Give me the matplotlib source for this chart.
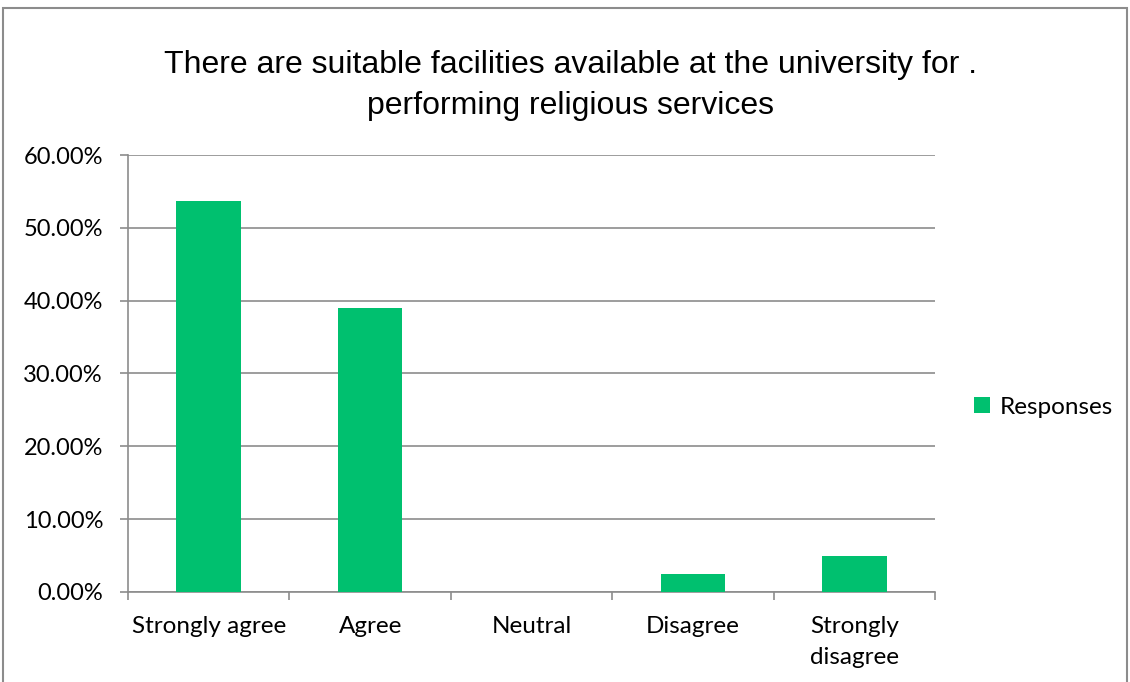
import matplotlib.pyplot as plt
from matplotlib.patches import Rectangle
from matplotlib.ticker import FixedLocator, PercentFormatter

# survey responses (share of respondents)
categories = ['Strongly agree', 'Agree', 'Neutral', 'Disagree', 'Strongly\ndisagree']
responses = [53.66, 39.02, 0.0, 2.44, 4.88]
yticks = [0, 10, 20, 30, 40, 50, 60]

bar_color = '#00C06F'
grid_color = '#8C8C8C'

fig = plt.figure(figsize=(11.3, 6.82), dpi=100)
ax = fig.add_axes([0.1133, 0.132, 0.7142, 0.6407])

x = list(range(len(categories)))
ax.bar(x, responses, width=0.4, color=bar_color, label='Responses', zorder=3)

ax.set_xlim(-0.5, len(categories) - 0.5)
ax.set_ylim(0, 60)
ax.set_yticks(yticks)
ax.yaxis.set_major_formatter(PercentFormatter(decimals=2))
ax.grid(axis='y', color=grid_color, linewidth=1.2, zorder=0)

# category labels centred, tick marks between categories
ax.set_xticks(x)
ax.set_xticklabels(categories, fontsize=17.5, family='Lato', linespacing=1.6)
ax.tick_params(axis='x', length=0, pad=17)
ax.xaxis.set_minor_locator(FixedLocator([i - 0.5 for i in range(len(categories) + 1)]))
ax.tick_params(axis='x', which='minor', length=6, width=1.2, color=grid_color)
ax.tick_params(axis='y', length=6, width=1.2, color=grid_color, labelsize=17, pad=12)
for lab in ax.get_yticklabels():
    lab.set_family('Lato')

for s in ['top', 'right']:
    ax.spines[s].set_visible(False)
for s in ['left', 'bottom']:
    ax.spines[s].set_color(grid_color)
    ax.spines[s].set_linewidth(1.2)

fig.text(0.505, 0.874, 'There are suitable facilities available at the university for .\nperforming religious services',
         ha='center', va='center', fontsize=23, family='Liberation Sans', linespacing=1.48)

ax.legend(loc='center left', bbox_to_anchor=(0.862, 0.403), bbox_transform=fig.transFigure,
          frameon=False, borderpad=0, borderaxespad=0,
          prop={'family': 'Lato', 'size': 17.5}, handlelength=0.65, handleheight=0.65,
          handletextpad=0.4)

# outer chart frame
fig.patches.append(Rectangle((0.003, -0.02), 0.994, 1.008, transform=fig.transFigure,
                             fill=False, edgecolor='#8C8C8C', linewidth=1.5))

fig.savefig('out.png', dpi=100)
